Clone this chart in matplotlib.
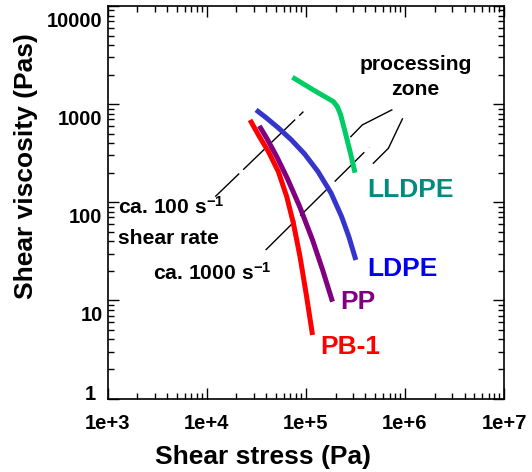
import matplotlib
matplotlib.use("Agg")
import matplotlib.pyplot as plt
import matplotlib.transforms as mtransforms
from matplotlib.ticker import LogLocator, NullFormatter

plt.rcParams['font.family'] = ['Liberation Sans', 'DejaVu Sans']
plt.rcParams['font.weight'] = 'bold'
plt.rcParams['mathtext.fontset'] = 'custom'
plt.rcParams['mathtext.rm'] = 'Liberation Sans:bold'
plt.rcParams['mathtext.default'] = 'regular'

# curves: shear stress (Pa), shear viscosity (Pas)
lldpe_x = [73300, 119000, 190000, 208000, 225000, 249000, 280000, 314000]
lldpe_y = [1880, 1396, 1061, 944, 776, 524, 328, 200]
ldpe_x = [31500, 39300, 53400, 71600, 97200, 133000, 180000, 230000, 272000, 320000]
ldpe_y = [873, 735, 568, 432, 311, 205, 124, 71.3, 44.6, 25.8]
pp_x = [34000, 40400, 50900, 65000, 86900, 117000, 148000, 186000]
pp_y = [600, 449, 292, 176, 90.2, 41.3, 20.4, 9.7]
pb1_x = [27400, 33300, 42000, 52900, 64300, 75000, 87500, 102000, 117000]
pb1_y = [690, 485, 328, 205, 114, 61.1, 27.9, 10.9, 4.44]

# shear-rate guide lines
rate100_x = [12200, 94700]
rate100_y = [114, 839]
rate1000_x = [39400, 438000]
rate1000_y = [32.6, 364]

# processing zone boundaries
zone_up_x = [285000, 372000, 738000]
zone_up_y = [466, 614, 873]
zone_lo_x = [481000, 682000, 944000]
zone_lo_y = [250, 355, 707]

fig = plt.figure(figsize=(5.32, 4.72), dpi=100)
ax = fig.add_axes([0.2021, 0.1557, 0.7453, 0.8316])
ax.set_xscale('log')
ax.set_yscale('log')
ax.set_xlim(1e3, 1e7)
ax.set_ylim(1, 1e4)

ax.plot(rate100_x, rate100_y, color='black', lw=1.0, ls=(0, (24, 4)))
ax.plot(rate1000_x, rate1000_y, color='black', lw=1.0, ls=(0, (30, 5)))
ax.plot(zone_up_x, zone_up_y, color='black', lw=1.0)
ax.plot(zone_lo_x, zone_lo_y, color='black', lw=1.0)

ax.plot(lldpe_x, lldpe_y, color='#00CC66', lw=3.6, solid_capstyle='butt')
ax.plot(ldpe_x, ldpe_y, color='#3535CC', lw=3.6, solid_capstyle='butt')
ax.plot(pp_x, pp_y, color='#800080', lw=3.6, solid_capstyle='butt')
ax.plot(pb1_x, pb1_y, color='#FF0000', lw=3.6, solid_capstyle='butt')

fs = 15.2
ax.text(1.28e6, 2510, 'processing', ha='center', va='center', fontsize=fs)
ax.text(1.28e6, 1396, 'zone', ha='center', va='center', fontsize=fs)
ax.text(4.19e5, 133, 'LLDPE', ha='left', va='center', fontsize=19, color='#008B80')
ax.text(4.19e5, 20.7, 'LDPE', ha='left', va='center', fontsize=19, color='#0000F0')
ax.text(2.23e5, 9.7, 'PP', ha='left', va='center', fontsize=19, color='#800080')
ax.text(1.39e5, 3.33, 'PB-1', ha='left', va='center', fontsize=19, color='#FF0000')
ax.text(1265, 90.2, 'ca. 100 s$^{-1}$', ha='left', va='center', fontsize=fs)
ax.text(1285, 43, 'shear rate', ha='left', va='center', fontsize=fs)
ax.text(2885, 18.9, 'ca. 1000 s$^{-1}$', ha='left', va='center', fontsize=fs)

ax.xaxis.set_minor_locator(LogLocator(base=10, subs=range(2, 10), numticks=10))
ax.xaxis.set_minor_formatter(NullFormatter())
ax.yaxis.set_minor_formatter(NullFormatter())
ax.set_xticks([1e3, 1e4, 1e5, 1e6, 1e7])
ax.set_xticklabels(['1e+3', '1e+4', '1e+5', '1e+6', '1e+7'])
ax.set_yticks([1, 10, 100, 1000, 10000])
ax.set_yticklabels(['1', '10', '100', '1000', '10000'])

ax.tick_params(which='major', direction='in', length=8, width=1, top=True, right=True,
               labelsize=14.5)
ax.tick_params(which='minor', direction='in', length=4, width=1, top=True, right=True)
ax.tick_params(axis='x', which='major', pad=11)
ax.tick_params(axis='y', which='major', pad=3.6)
for sp in ax.spines.values():
    sp.set_linewidth(1.2)

# y tick labels sit a bit below their ticks in the original
for lab, val in zip(ax.get_yticklabels(), [1, 10, 100, 1000, 10000]):
    dy = 4 / 72 if val == 1 else -9.4 / 72
    dx = -5 / 72 if val == 1 else 0
    lab.set_transform(lab.get_transform() +
                      mtransforms.ScaledTranslation(dx, dy, fig.dpi_scale_trans))

ax.set_xlabel('Shear stress (Pa)', fontsize=19, fontweight='bold', va='center')
ax.xaxis.set_label_coords(0.391, -0.148)
ax.set_ylabel('Shear viscosity (Pas)', fontsize=19, fontweight='bold', va='center')
ax.yaxis.set_label_coords(-0.205, 0.593)

fig.savefig('out.png', dpi=100)
